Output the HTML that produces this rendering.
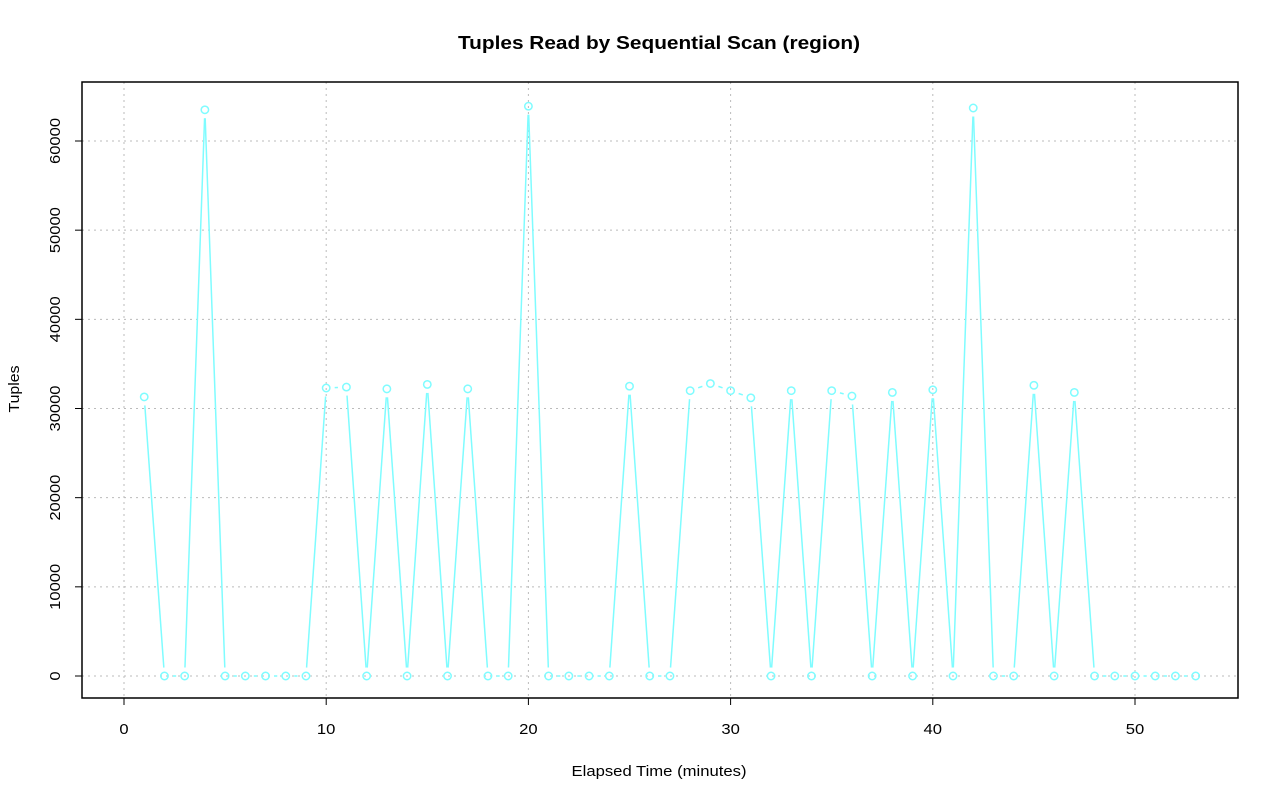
<!DOCTYPE html>
<html><head><meta charset="utf-8"><style>
body{margin:0;background:#fff}
svg{display:block;font-family:"Liberation Sans",sans-serif}
</style></head><body>
<svg id="s" width="1280" height="801" xmlns="http://www.w3.org/2000/svg">
<rect width="1280" height="801" fill="#fff"/>
<text x="659" y="49" text-anchor="middle" font-size="18" font-weight="bold" textLength="402" lengthAdjust="spacingAndGlyphs">Tuples Read by Sequential Scan (region)</text>
<text x="659" y="776" text-anchor="middle" font-size="15" textLength="175" lengthAdjust="spacingAndGlyphs">Elapsed Time (minutes)</text>
<text transform="translate(19,389) rotate(-90)" text-anchor="middle" font-size="15" textLength="47" lengthAdjust="spacingAndGlyphs">Tuples</text>
<g id="g"></g>
<rect x="82" y="82" width="1156" height="616" fill="none" stroke="#000" stroke-width="1.5"/>
</svg>
<script>
var g=document.getElementById('g'),h='';
function X(v){return 124+v*20.22}
function Y(v){return 676-v*0.0089167}
for(var i=0;i<=50;i+=10){var x=X(i);
h+='<line x1="'+x+'" y1="82" x2="'+x+'" y2="698" stroke="#bbb" stroke-dasharray="2,4"/>';
h+='<line x1="'+x+'" y1="698" x2="'+x+'" y2="705" stroke="#000"/>';
h+='<text x="'+x+'" y="734" text-anchor="middle" font-size="15" textLength="'+(i?18.5:9.2)+'" lengthAdjust="spacingAndGlyphs">'+i+'</text>';}
h+='<line x1="'+X(0)+'" y1="698" x2="'+X(50)+'" y2="698" stroke="#000"/>';
for(var v=0;v<=60000;v+=10000){var y=Y(v);
h+='<line x1="82" y1="'+y+'" x2="1238" y2="'+y+'" stroke="#bbb" stroke-dasharray="2,4"/>';
h+='<line x1="75" y1="'+y+'" x2="82" y2="'+y+'" stroke="#000"/>';
h+='<text transform="translate(60,'+y+') rotate(-90)" text-anchor="middle" font-size="15" textLength="'+(v?46:9.2)+'" lengthAdjust="spacingAndGlyphs">'+v+'</text>';}
var d={1:31300,4:63500,10:32300,11:32400,13:32200,15:32700,17:32200,20:63900,25:32500,28:32000,29:32800,30:32000,31:31200,33:32000,35:32000,36:31400,38:31800,40:32100,42:63700,45:32600,47:31800};
var p=[];for(var k=1;k<=53;k++)p.push([X(k),Y(d[k]||0)]);
var c='#7ffcff';
for(var k=0;k<p.length-1;k++){var a=p[k],b=p[k+1],dx=b[0]-a[0],dy=b[1]-a[1],L=Math.sqrt(dx*dx+dy*dy),gp=8.5;
if(L>2*gp){var ux=dx/L,uy=dy/L;h+='<line x1="'+(a[0]+ux*gp)+'" y1="'+(a[1]+uy*gp)+'" x2="'+(b[0]-ux*gp)+'" y2="'+(b[1]-uy*gp)+'" stroke="'+c+'" stroke-width="1.5"/>';}}
p.forEach(function(q){h+='<circle cx="'+q[0]+'" cy="'+q[1]+'" r="3.7" fill="none" stroke="'+c+'" stroke-width="1.5"/>';});
g.innerHTML=h;
</script>
</body></html>
